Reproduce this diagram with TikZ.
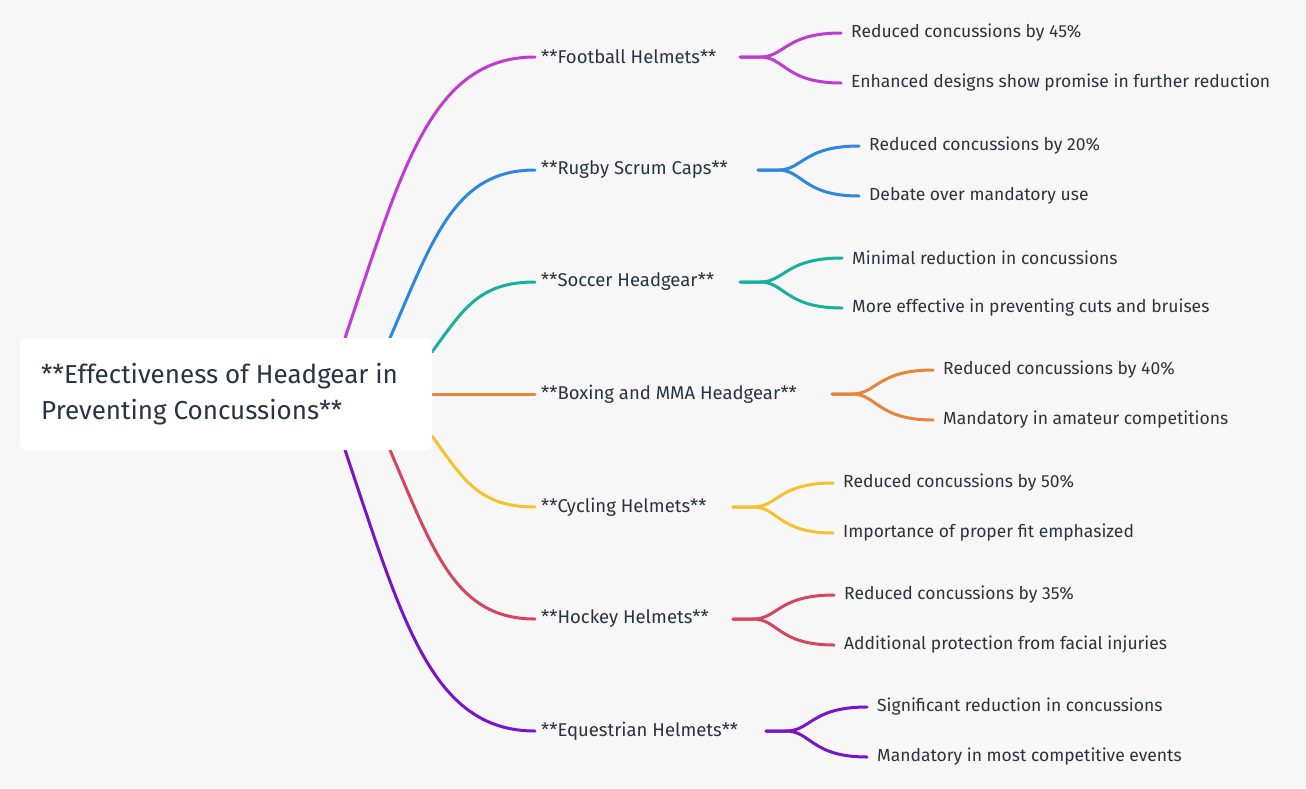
\documentclass[tikz,border=0pt]{standalone}
\usepackage{fontspec}
\setmainfont{Fira Sans}
\definecolor{bg}{HTML}{F7F7F7}
\definecolor{txt}{HTML}{2A3340}
\definecolor{cA}{HTML}{C03BD0}
\definecolor{cB}{HTML}{2E86DE}
\definecolor{cC}{HTML}{1AAE9F}
\definecolor{cD}{HTML}{E8833A}
\definecolor{cE}{HTML}{F5C12E}
\definecolor{cF}{HTML}{D4455E}
\definecolor{cG}{HTML}{7A14C8}
\tikzset{
  lbl/.style={anchor=west,inner sep=0pt,text=txt,font=\fontsize{18.5}{20}\selectfont},
  leaf/.style={anchor=west,inner sep=0pt,text=txt,font=\fontsize{17.5}{20}\selectfont},
  conn/.style={line width=3pt,line cap=round}
}
\begin{document}
\begin{tikzpicture}[x=1pt,y=-1pt]
\fill[bg] (0,0) rectangle (1306,788);
\useasboundingbox (0,0) rectangle (1306,788);
\foreach \sx/\sy/\ey/\c in {345/338/57/cA,390/338/170/cB,432/352/282/cC,432/394/394/cD,432/436/507/cE,390/450/619/cF,345/450/731/cG}{
  \coordinate (s\c) at (\sx,\sy);
  \coordinate (e\c) at (535,\ey);
  \draw[conn,\c] (s\c) .. controls ({\sx+0.3*(535-\sx)},{\sy+0.6*(\ey-\sy)}) and ({\sx+0.45*(535-\sx)},\ey) .. (e\c);
}
\node[fill=white,rounded corners=5pt,minimum width=412pt,minimum height=112pt,anchor=north west] (root) at (20,338) {};
\node[anchor=west,align=left,text=txt,font=\fontsize{26}{36}\selectfont,inner sep=0pt] (rt) at (41,394) {**Effectiveness of Headgear in\\Preventing Concussions**};
\foreach \n/\y/\ex/\cx/\c/\t/\a/\b in {
 fb/57/740/851/cA/{**Football Helmets**}/{Reduced concussions by 45\%}/{Enhanced designs show promise in further reduction},
 rg/170/758/869/cB/{**Rugby Scrum Caps**}/{Reduced concussions by 20\%}/{Debate over mandatory use},
 sc/282/740/852/cC/{**Soccer Headgear**}/{Minimal reduction in concussions}/{More effective in preventing cuts and bruises},
 bx/394/832/943/cD/{**Boxing and MMA Headgear**}/{Reduced concussions by 40\%}/{Mandatory in amateur competitions},
 cy/507/733/843/cE/{**Cycling Helmets**}/{Reduced concussions by 50\%}/{Importance of proper fit emphasized},
 hk/619/733/844/cF/{**Hockey Helmets**}/{Reduced concussions by 35\%}/{Additional protection from facial injuries},
 eq/731/766/877/cG/{**Equestrian Helmets**}/{Significant reduction in concussions}/{Mandatory in most competitive events}}{
  \node[lbl] (\n) at (541,\y) {\t};
  \coordinate (\n o) at (\ex,\y);
  \coordinate (\n a) at ({\cx-10},{\y-24});
  \coordinate (\n b) at ({\cx-10},{\y+26});
  \node[leaf] (\n A) at (\cx,{\y-24}) {\a};
  \node[leaf] (\n B) at (\cx,{\y+26}) {\b};
  \draw[conn,\c] (\n o) -- ++(20,0) .. controls ({\ex+45},\y) and ({\ex+45},{\y-24}) .. (\n a);
  \draw[conn,\c] (\n o) -- ++(20,0) .. controls ({\ex+45},\y) and ({\ex+45},{\y+26}) .. (\n b);
}
\end{tikzpicture}
\end{document}
